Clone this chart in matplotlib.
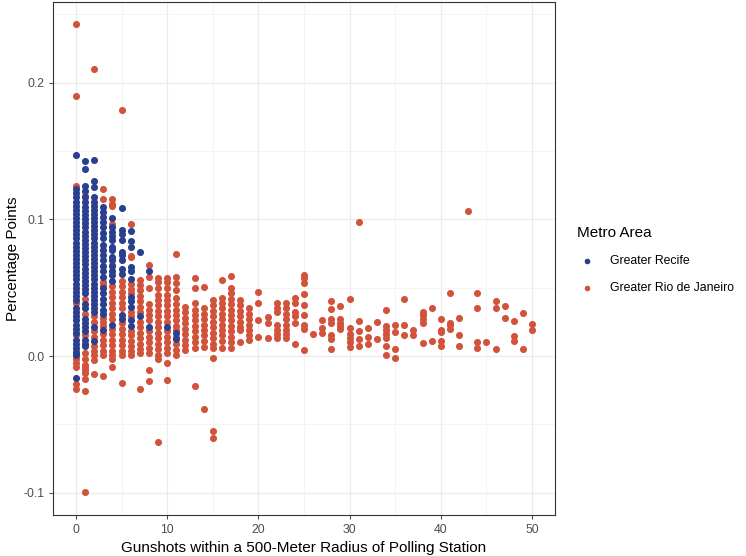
import matplotlib.pyplot as plt
import numpy as np

plt.rcParams['font.family'] = ['Liberation Sans', 'DejaVu Sans']

# gunshots (x) -> percentage point values, one list per x value
recife_x = [0, 1, 2, 3, 4, 5, 6, 7, 8, 10, 11]
recife_cols = [
    [0.147, 0.122, 0.119, 0.116, 0.113, 0.110, 0.107, 0.104, 0.101, 0.098, 0.095, 0.092,
     0.089, 0.086, 0.083, 0.080, 0.077, 0.074, 0.071, 0.068, 0.065, 0.062, 0.059, 0.056,
     0.053, 0.050, 0.047, 0.044, 0.041, 0.035, 0.032, 0.029, 0.026, 0.023, 0.020, 0.017,
     0.012, 0.009, 0.006, 0.003, 0.001, -0.016],
    [0.143, 0.137, 0.1245, 0.121, 0.116, 0.113, 0.109, 0.106, 0.103, 0.100, 0.097, 0.094,
     0.091, 0.088, 0.085, 0.082, 0.079, 0.076, 0.073, 0.070, 0.067, 0.064, 0.061, 0.058,
     0.055, 0.052, 0.049, 0.046, 0.038, 0.035, 0.027, 0.024, 0.021, 0.018, 0.012, 0.009,
     0.007],
    [0.1436, 0.128, 0.1234, 0.1166, 0.113, 0.110, 0.107, 0.104, 0.101, 0.098, 0.095,
     0.092, 0.089, 0.086, 0.083, 0.080, 0.077, 0.074, 0.071, 0.068, 0.065, 0.062, 0.059,
     0.056, 0.053, 0.050, 0.047, 0.044, 0.041, 0.038, 0.035, 0.032, 0.0215, 0.011],
    [0.109, 0.1055, 0.102, 0.098, 0.094, 0.090, 0.086, 0.081, 0.0775, 0.074, 0.070, 0.066,
     0.062, 0.058, 0.0495, 0.046, 0.042, 0.038, 0.034, 0.031, 0.019],
    [0.1012, 0.0945, 0.091, 0.0875, 0.085, 0.080, 0.0775, 0.0726, 0.070, 0.066, 0.0625,
     0.059, 0.055, 0.023],
    [0.108, 0.0922, 0.089, 0.085, 0.0763, 0.074, 0.070, 0.064, 0.060, 0.030, 0.027],
    [0.0915, 0.0844, 0.0795, 0.065, 0.062, 0.056, 0.043, 0.040, 0.036, 0.026, 0.022],
    [0.0763, 0.029],
    [0.062, 0.0215],
    [0.021],
    [0.0166, 0.0122],
]

rio_near = [  # x = 0..10
    [0.243, 0.19, 0.124, 0.0385, 0.0154, 0.001, -0.002, -0.005, -0.008, -0.0207, -0.024],
    [0.117, 0.042, 0.031, 0.0154, 0.002, -0.002, -0.0066, -0.008, -0.010, -0.0124,
     -0.0168, -0.0256, -0.0995],
    [0.21, 0.029, 0.025, 0.018, 0.014, 0.007, 0.004, 0.0005, -0.003, -0.0134],
    [0.122, 0.1146, 0.054, 0.052, 0.028, 0.025, 0.022, 0.016, 0.012, 0.008, 0.004,
     0.0005, -0.0144],
    [0.1146, 0.111, 0.1097, 0.0966, 0.0665, 0.051, 0.047, 0.043, 0.039, 0.035, 0.031,
     0.027, 0.020, 0.016, 0.012, 0.008, 0.004, 0.0005, -0.0022, -0.008],
    [0.18, 0.055, 0.051, 0.047, 0.043, 0.039, 0.035, 0.024, 0.020, 0.016, 0.012, 0.008,
     0.004, 0.001, -0.020],
    [0.0966, 0.0735, 0.0722, 0.053, 0.049, 0.046, 0.032, 0.029, 0.018, 0.015, 0.011,
     0.007, 0.004, 0.001],
    [0.0556, 0.052, 0.048, 0.044, 0.040, 0.036, 0.032, 0.025, 0.021, 0.017, 0.013, 0.009,
     0.005, 0.002, -0.024],
    [0.0666, 0.058, 0.0495, 0.038, 0.034, 0.030, 0.026, 0.018, 0.014, 0.010, 0.006, 0.002,
     -0.010, -0.0185],
    [0.0573, 0.0544, 0.0495, 0.0446, 0.041, 0.037, 0.033, 0.029, 0.025, 0.021, 0.017,
     0.013, 0.009, 0.005, 0.001, -0.0024, -0.0627],
    [0.0573, 0.0544, 0.0495, 0.0446, 0.041, 0.037, 0.033, 0.029, 0.025, 0.018, 0.014,
     0.010, 0.006, 0.002, -0.005, -0.0176],
]

rio_mid = [  # x = 11..25
    [0.0746, 0.058, 0.0531, 0.0483, 0.0422, 0.038, 0.034, 0.030, 0.026, 0.022, 0.019,
     0.014, 0.009, 0.0044, 0.0007],
    [0.0361, 0.032, 0.028, 0.024, 0.020, 0.016, 0.012, 0.008, 0.0044],
    [0.0573, 0.050, 0.0385, 0.034, 0.030, 0.026, 0.022, 0.018, 0.014, 0.010, 0.0056, -0.0217],
    [0.0507, 0.0349, 0.031, 0.027, 0.023, 0.019, 0.015, 0.011, 0.0068, -0.0385],
    [0.041, 0.037, 0.033, 0.029, 0.025, 0.021, 0.017, 0.013, 0.009, 0.0056, -0.0017,
     -0.0546, -0.0602],
    [0.0556, 0.0427, 0.039, 0.035, 0.031, 0.027, 0.023, 0.019, 0.015, 0.011, 0.0056],
    [0.0588, 0.0495, 0.046, 0.042, 0.038, 0.034, 0.030, 0.026, 0.022, 0.018, 0.014, 0.010,
     0.0056],
    [0.041, 0.037, 0.033, 0.029, 0.025, 0.021, 0.019, 0.0105],
    [0.0349, 0.031, 0.027, 0.023, 0.019, 0.015, 0.0117],
    [0.0466, 0.0385, 0.0263, 0.0141],
    [0.0288, 0.0239, 0.0129],
    [0.0385, 0.035, 0.0324, 0.0227, 0.019, 0.016, 0.0129],
    [0.0385, 0.035, 0.031, 0.027, 0.023, 0.019, 0.016, 0.0129],
    [0.0427, 0.0385, 0.0324, 0.029, 0.0239, 0.0088],
    [0.059, 0.057, 0.0533, 0.0455, 0.0375, 0.030, 0.0227, 0.0195, 0.0042],
]

rio_far = [  # x = 26..50
    [0.0158],
    [0.0263, 0.0202, 0.0166],
    [0.0402, 0.0344, 0.0268, 0.0244, 0.0153, 0.0122, 0.0054],
    [0.0368, 0.0271, 0.024, 0.0218, 0.0195],
    [0.0417, 0.0207, 0.016, 0.0129, 0.010, 0.0068],
    [0.098, 0.0256, 0.0185, 0.0122, 0.0071],
    [0.0207, 0.0136, 0.0088],
    [0.0249, 0.0122],
    [0.0336, 0.022, 0.019, 0.016, 0.0129, 0.0071, 0.0007],
    [0.0224, 0.0175, 0.0051, -0.0017],
    [0.0417, 0.0224, 0.0151],
    [0.0188, 0.0151],
    [0.0324, 0.030, 0.0271, 0.0239, 0.0097],
    [0.0354, 0.0112],
    [0.0271, 0.019, 0.0173, 0.0112, 0.0073],
    [0.0461, 0.0244, 0.0227, 0.0195],
    [0.028, 0.0151, 0.0071],
    [0.106],
    [0.0461, 0.0354, 0.0105, 0.0056],
    [0.0105],
    [0.040, 0.0351, 0.0049],
    [0.0368, 0.028],
    [0.0256, 0.0146, 0.0112],
    [0.0312, 0.0049],
    [0.0234, 0.019],
]

blue = '#2B3F8F'
red = '#D2533C'

# flatten columns
rio_cols = rio_near + rio_mid + rio_far
rx, ry = [], []
for i, col in enumerate(rio_cols):
    rx += [i] * len(col)
    ry += col
bx, by = [], []
for x, col in zip(recife_x, recife_cols):
    bx += [x] * len(col)
    by += col

fig = plt.figure(figsize=(7.46, 5.56), dpi=100)
ax = fig.add_axes([0.0713, 0.073, 0.6724, 0.9243])

ax.scatter(rx, ry, s=26, color=red, linewidths=0, zorder=3, label='Greater Rio de Janeiro')
ax.scatter(bx, by, s=26, color=blue, linewidths=0, zorder=4, label='Greater Recife')

ax.set_xlim(-2.5, 52.5)
ax.set_ylim(-0.1166, 0.2593)
ax.set_xticks([0, 10, 20, 30, 40, 50])
ax.set_xticks([5, 15, 25, 35, 45], minor=True)
ax.set_yticks([-0.1, 0.0, 0.1, 0.2])
ax.set_yticklabels(['-0.1', '0.0', '0.1', '0.2'])
ax.set_yticks([-0.05, 0.05, 0.15, 0.25], minor=True)
ax.grid(True, which='major', color='#EBEBEB', linewidth=0.9, zorder=0)
ax.grid(True, which='minor', color='#F3F3F3', linewidth=0.6, zorder=0)
ax.set_axisbelow(True)
ax.tick_params(which='major', colors='#4D4D4D', labelsize=8.8, length=3, width=0.8)
ax.tick_params(which='minor', length=0)
for s in ax.spines.values():
    s.set_color('#333333')
    s.set_linewidth(0.8)

ax.set_xlabel('Gunshots within a 500-Meter Radius of Polling Station', fontsize=11, labelpad=3)
ax.set_ylabel('Percentage Points', fontsize=11, labelpad=2)

h, l = ax.get_legend_handles_labels()
fig.legend([h[1], h[0]], [l[1], l[0]], title='Metro Area', loc='upper left',
           bbox_to_anchor=(0.765, 0.605), frameon=False, fontsize=8.8, title_fontsize=11,
           alignment='left', handletextpad=1.1, labelspacing=1.25, markerscale=0.8,
           borderpad=0, handlelength=1.6)

fig.savefig('out.png', dpi=100)
